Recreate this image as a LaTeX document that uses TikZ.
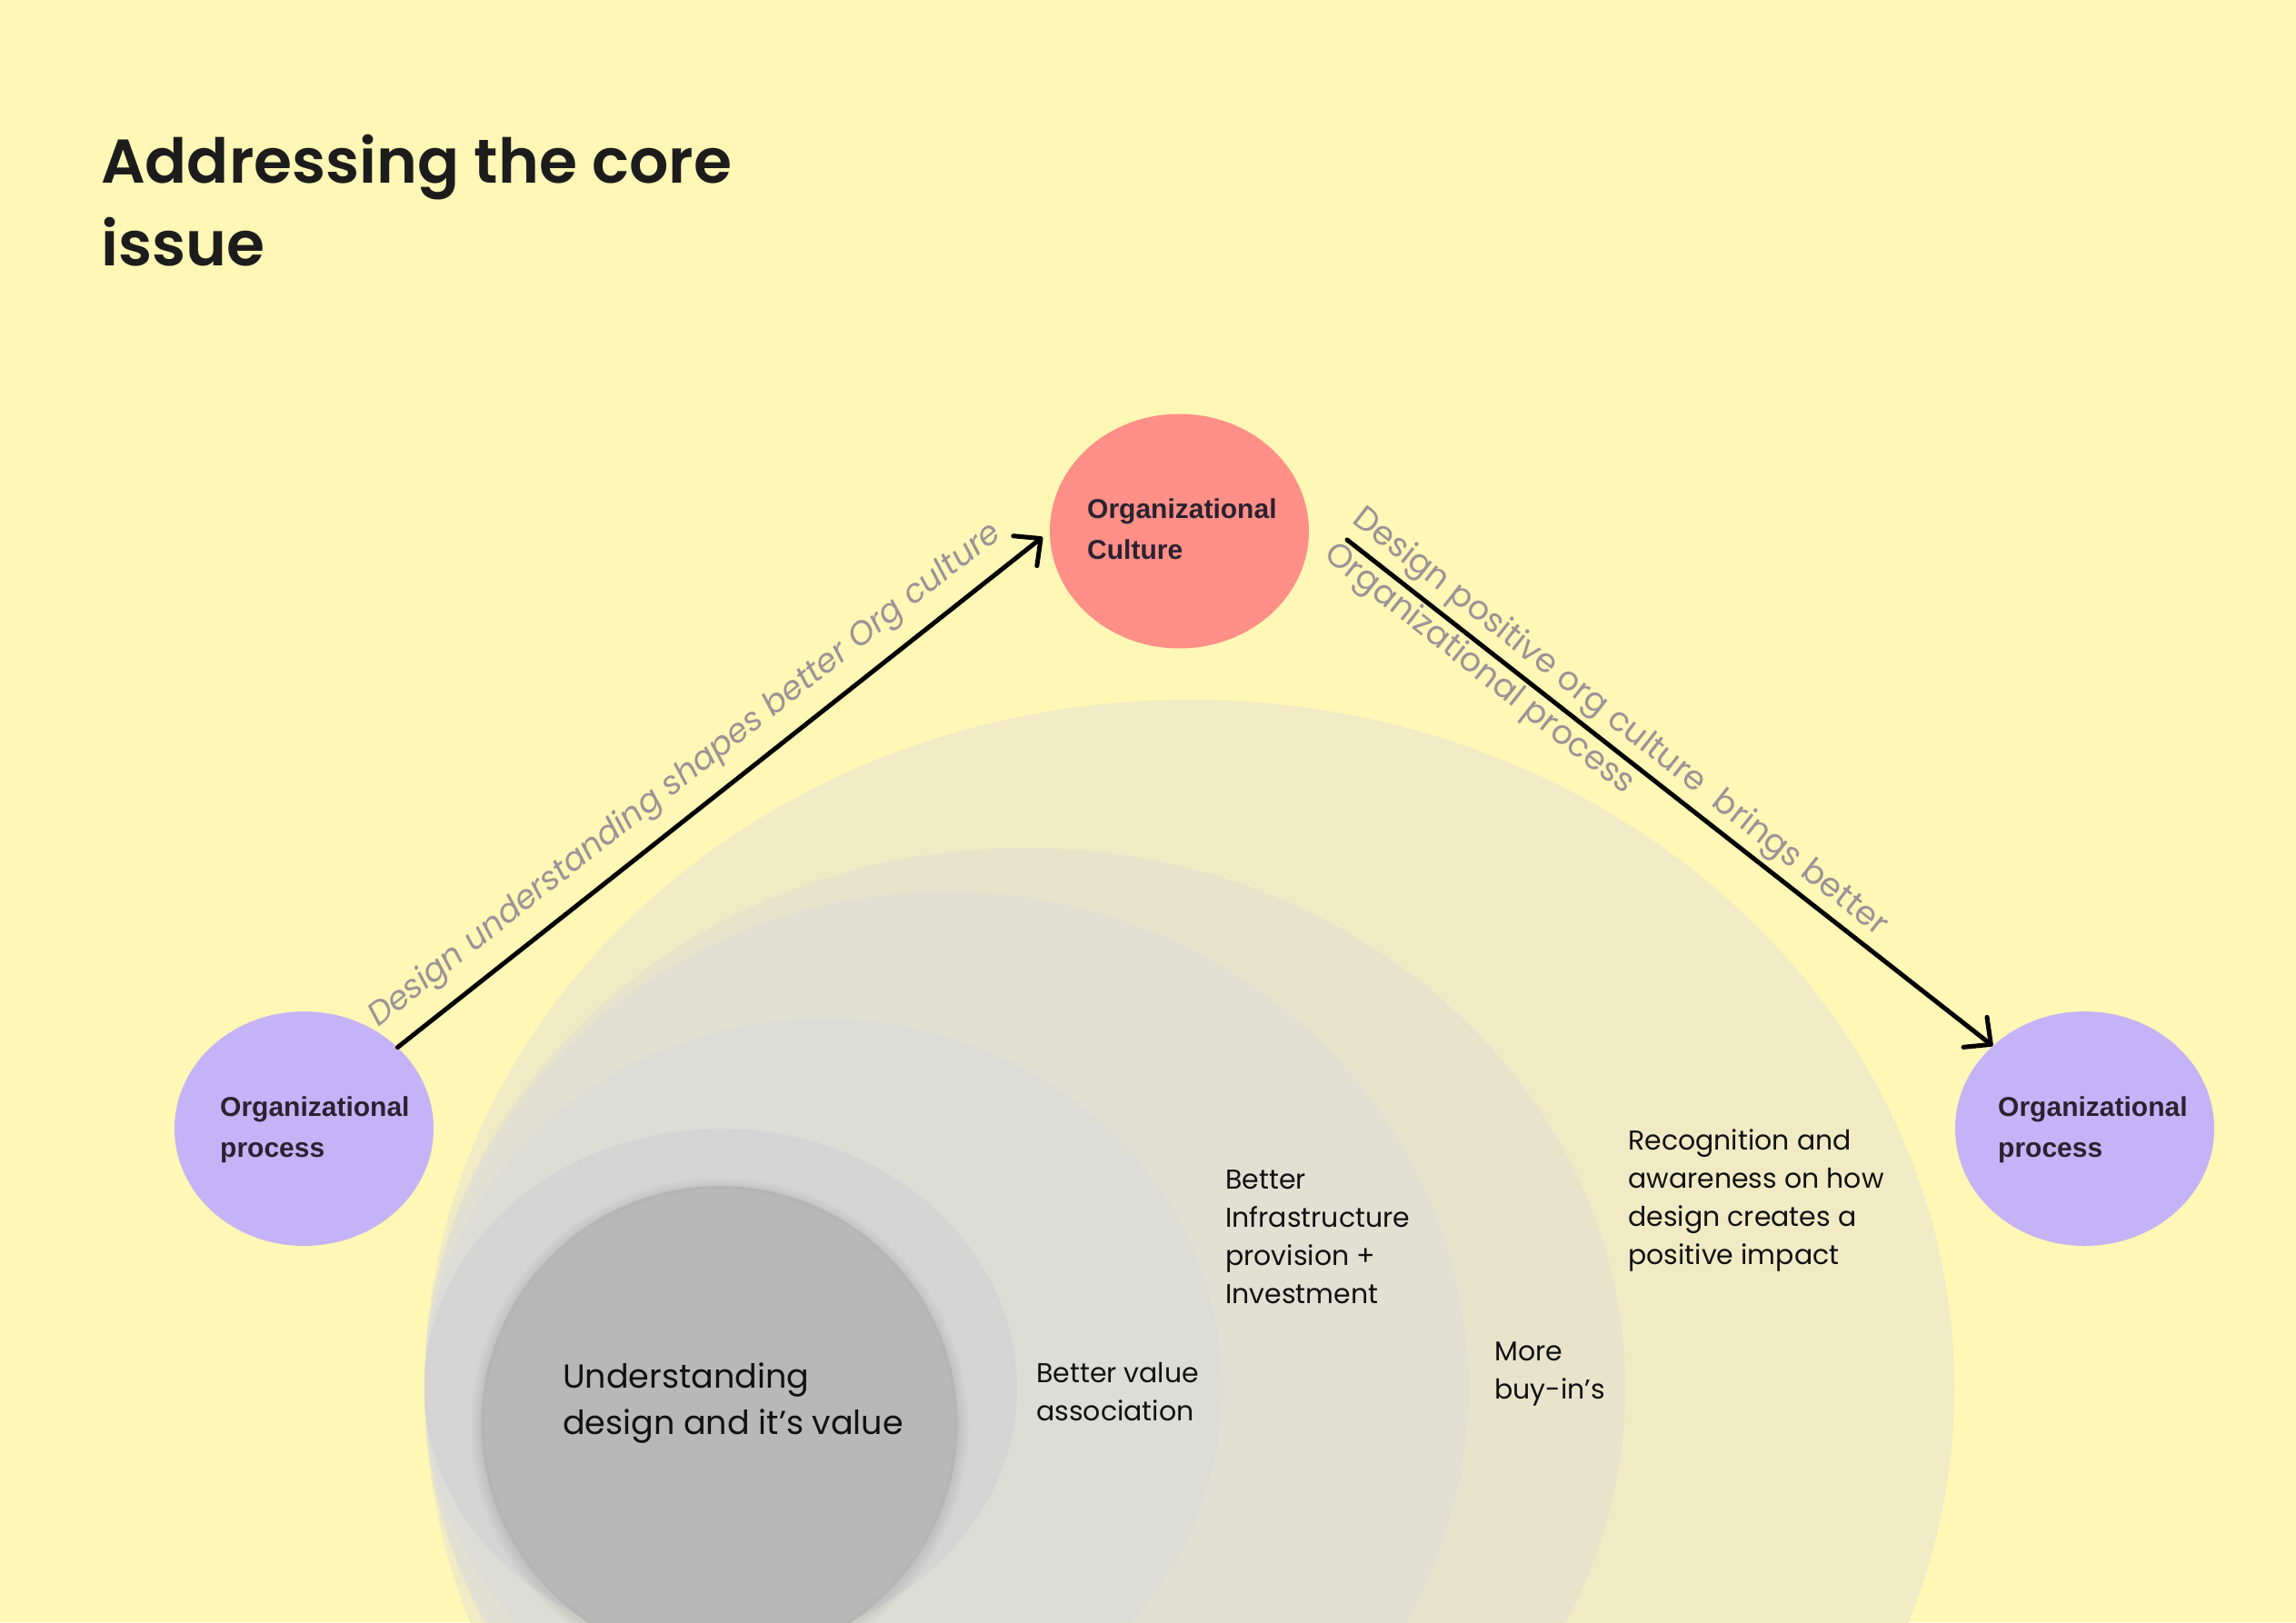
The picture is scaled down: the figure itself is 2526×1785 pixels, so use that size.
\documentclass[tikz,border=0pt]{standalone}
\usepackage{fontspec}
\setmainfont{Poppins}
\IfFontExistsTF{Poppins SemiBold}
  {\newfontfamily\titlefont{Poppins SemiBold}\newcommand\titlesize{68}}
  {\newfontfamily\titlefont{Poppins}[UprightFont=*,BoldFont=* Bold]\newcommand\titlesize{66}}
\newfontfamily\nodefont{Liberation Sans}
\usetikzlibrary{shapes.geometric,arrows.meta,calc}
\definecolor{bg}{HTML}{FFF7B5}
\definecolor{eA}{HTML}{F0EBC4}
\definecolor{eB}{HTML}{E8E4CC}
\definecolor{eC}{HTML}{E2E0D3}
\definecolor{eD}{HTML}{DDDDD8}
\definecolor{eE}{HTML}{D4D4D4}
\definecolor{eF}{HTML}{B8B8B8}
\definecolor{salmon}{HTML}{FF8F87}
\definecolor{lav}{HTML}{C5B3F7}
\definecolor{ink}{HTML}{111111}
\definecolor{titleink}{HTML}{1C1C1C}
\definecolor{nodeink}{HTML}{2A2230}
\definecolor{lblgray}{HTML}{9B9397}
\newcommand\mystrut[1]{\rule{0pt}{#1}}
\begin{document}
\begin{tikzpicture}[x=1pt,y=-1pt,
  bubble/.style={shape=ellipse, minimum width=285pt, minimum height=258pt, inner sep=0pt, draw=none},
  conn/.style={line width=5pt, line cap=round, line join=round,
    -{Straight Barb[length=22pt,width=42pt,round]}},
  nodetext/.style={anchor=north west, inner sep=0pt, align=left, text=nodeink,
    font=\nodefont\bfseries\fontsize{30}{45}\selectfont},
  body/.style={anchor=north west, inner sep=0pt, align=left, text=ink,
    font=\fontsize{30}{42}\selectfont},
  lbl/.style={inner sep=0pt, text=lblgray, font=\fontsize{36.5}{50}\selectfont}
]
\useasboundingbox (0,0) rectangle (2526,1785);
\fill[bg] (0,0) rectangle (2526,1785);

% nested rings
\begin{scope}
\clip (0,0) rectangle (2526,1785);
\fill[eA] (1308.5,1527) ellipse [x radius=841.5, y radius=757];
\fill[eB] (1127.5,1527) ellipse [x radius=660.5, y radius=594];
\fill[eC] (1041.5,1527) ellipse [x radius=574.5, y radius=546];
\fill[eD] (906,1527) ellipse [x radius=439, y radius=406];
\fill[eE] (793,1527) ellipse [x radius=326, y radius=285];
\foreach \i in {1,...,6}{
  \fill[black, opacity=0.01] (791.5,1570) circle [radius=262+2*\i];
}
\fill[eF] (791.5,1567) circle [radius=262];
\draw[black!32, line width=4pt, opacity=0.2] (791.5,1567) circle [radius=260];
\end{scope}

\node[body, font=\fontsize{36.5}{51}\selectfont] (core) at (619,1491)
  {\mystrut{36pt}Understanding\\design and it’s value};
\node[body] (valassoc) at (1140,1491) {\mystrut{30pt}Better value\\association};
\node[body] (infra) at (1348,1278) {\mystrut{30pt}Better\\Infrastructure\\provision +\\Investment};
\node[body] (buyin) at (1644,1467) {\mystrut{30pt}More\\buy-in’s};
\node[body] (recog) at (1791,1235) {\mystrut{30pt}Recognition and\\awareness on how\\design creates a\\positive impact};

% title
\node[anchor=north west, inner sep=0pt, align=left, text=titleink,
  font=\titlefont\fontsize{\titlesize}{91}\selectfont] (title) at (111,131)
  {\mystrut{70pt}Addressing the core\\issue};

% main nodes
\node[bubble, fill=lav] (lp) at (334.5,1242) {};
\node[bubble, fill=salmon] (cult) at (1297.5,584.5) {};
\node[bubble, fill=lav] (rp) at (2293.5,1242) {};

\node[nodetext] (lpt) at ($(lp.center)+(-92.5,-44)$) {\mystrut{30pt}Organizational\\process};
\node[nodetext] (cultt) at ($(cult.center)+(-101.5,-44.5)$) {\mystrut{30pt}Organizational\\Culture};
\node[nodetext] (rpt) at ($(rp.center)+(-95.5,-44)$) {\mystrut{30pt}Organizational\\process};

% connectors
\coordinate (a1e) at ($(cult.center)+(-150.5,6.5)$);
\coordinate (a2s) at ($(cult.center)+(184.5,9.5)$);
\draw[conn] (lp.41.6) -- (a1e);
\draw[conn] (a2s) -- (rp.138.8);

% connector labels
\node[lbl, anchor=base west, rotate=38.2, font=\itshape\fontsize{36}{52}\selectfont] (l1) at (416,1131)
  {Design understanding shapes better Org culture};
\node[lbl, anchor=north west, align=left, rotate=-38.2] (l2) at (1509,545)
  {\mystrut{37pt}Design positive org culture~~brings better\\Organizational process};
\end{tikzpicture}
\end{document}
